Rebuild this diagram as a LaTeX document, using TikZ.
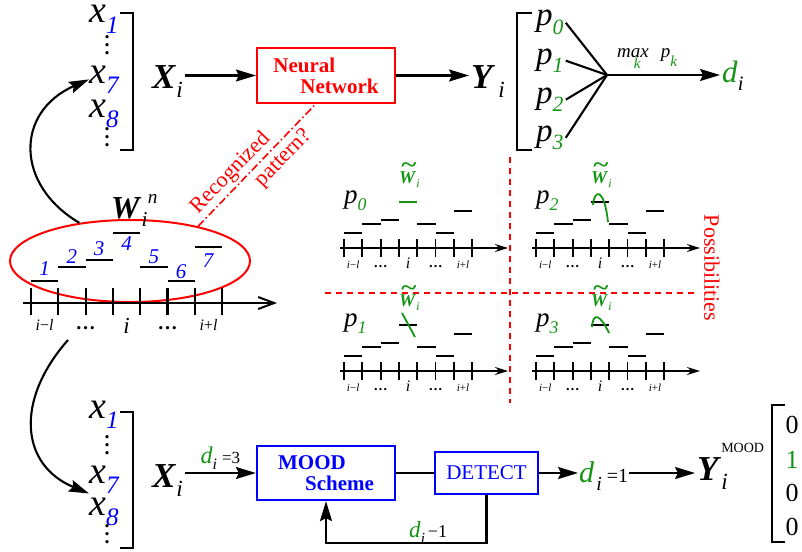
\documentclass[tikz,border=0pt]{standalone}
\usepackage{fontspec}
\setmainfont{Liberation Serif}
\usepackage{graphicx}
\usepackage{tikz}
\usetikzlibrary{arrows.meta,positioning,shapes.geometric}
\definecolor{patred}{RGB}{255,0,0}
\definecolor{patblue}{RGB}{0,0,255}
\definecolor{patgreen}{RGB}{20,150,20}
\newcommand\lo[1]{\raisebox{-0.27em}{\scalebox{0.66}{#1}}}
\newcommand\bi[1]{\textbf{\textit{#1}}}
\newcommand\tw{\rlap{\raisebox{0.6em}{\hspace{0.12em}\scalebox{1.6}[1.3]{\textbf{\char"7E}}}}\bi{W}}
\newcommand\vdts{\vbox{\baselineskip=8pt\lineskiplimit=-20pt\lineskip=0pt\hbox{\textbf{.}}\hbox{\textbf{.}}\hbox{\textbf{.}}}}
\tikzset{
    fs/.style={font=\fontsize{#1}{#1}\selectfont},
    pline/.style={line width=1.8pt},
    pics/panel/.style 2 args={code={
        \draw[pline, -{Stealth[length=13pt,width=8pt]}] (-4,0) -- (164,0);
        \foreach \k in {0,...,7}
            \draw[pline] (\k*18.3,-9) -- (\k*18.3,9);
        \foreach \k/\h in {0/15,1/24,2/28,4/24,5/15,6/37}
            \draw[pline] (\k*18.3,-\h) -- ++(18.3,0);
        \draw[pline, #1] (54.9,-46) -- ++(18.3,0);
        \node[fs=27, anchor=base west, inner sep=0pt] (-p) at (0,-45) {\textit{p}\lo{\textcolor{patgreen}{\textit{#2}}}};
        \node[fs=18, anchor=base west, inner sep=0pt, text=patgreen] (-w) at (55,-65) {\tw\lo{\textit{i}}};
        \node[fs=11, anchor=base] (-il) at (9.15,20) {\textit{i}−\textit{l}};
        \node[fs=14, anchor=base] (-d1) at (36.6,19) {\textbf{…}};
        \node[fs=16, anchor=base] (-i) at (64,20) {\textit{i}};
        \node[fs=14, anchor=base] (-d2) at (91.5,19) {\textbf{…}};
        \node[fs=11, anchor=base] (-ip) at (119,20) {\textit{i}+\textit{l}};
    }}
}

\begin{document}
\begin{tikzpicture}[
        x=1pt, y=-1pt,
        >={Stealth[length=20pt,width=12pt,inset=3pt]},
        ln/.style={line width=2.1pt},
        vec/.style={fs=38, anchor=base west, inner sep=0pt},
        vdot/.style={fs=20, anchor=base, inner sep=0pt},
        procbox/.style={draw, line width=2.2pt, minimum width=138pt, minimum height=55pt, align=left, fs=21},
        rdash/.style={patred, line width=1.3pt, dash pattern=on 6pt off 5pt}
    ]
    \useasboundingbox (0,0) rectangle (802,551);
    % top: input vector -> neural network -> outputs
    \node[vec] (x1) at (89,23) {\textit{x}\lo{\textcolor{patblue}{\textit{1}}}};
    \node[vdot] (xd1) at (107,55) {\vdts};
    \node[vec] (x7) at (89,83) {\textit{x}\lo{\textcolor{patblue}{\textit{7}}}};
    \node[vec] (x8) at (89,117) {\textit{x}\lo{\textcolor{patblue}{\textit{8}}}};
    \node[vdot] (xd2) at (107,146) {\vdts};
    \draw[ln] (120,13) -- (133,13) -- (133,150) -- (120,150);
    \node[fs=35, anchor=base west, inner sep=2pt] (Xt) at (150,88) {\bi{X}\lo{\textit{i}}};
    \node[procbox, draw=patred, text=patred] (nn) at (326,75.5) {\textbf{Neural}\\\hspace*{27pt}\textbf{Network}};
    \node[fs=35, anchor=base west, inner sep=2pt] (Yt) at (469,88) {\bi{Y}\hspace{3pt}\lo{\textit{i}}};
    \draw[ln] (532,13) -- (517,13) -- (517,150) -- (532,150);
    \node[fs=33, anchor=base west, inner sep=2pt] (p0) at (534,26) {\textit{p}\lo{\textcolor{patgreen}{\textit{0}}}};
    \node[fs=33, anchor=base west, inner sep=2pt] (p1) at (534,64) {\textit{p}\lo{\textcolor{patgreen}{\textit{1}}}};
    \node[fs=33, anchor=base west, inner sep=2pt] (p2) at (534,103) {\textit{p}\lo{\textcolor{patgreen}{\textit{2}}}};
    \node[fs=33, anchor=base west, inner sep=2pt] (p3) at (534,141) {\textit{p}\lo{\textcolor{patgreen}{\textit{3}}}};
    \coordinate (join) at (607,75);
    \node[fs=31, anchor=base west, inner sep=2pt] (dt) at (720,82) {\textcolor{patgreen}{\textit{d}}\lo{\textit{i}}};
    \node[fs=19, anchor=base west, inner sep=0pt] (maxk) at (617,57) {\textit{m\rlap{\hspace{3pt}\raisebox{-0.6em}{\scalebox{0.8}{\textcolor{patgreen}{k}}}}ax}\hspace{12pt}\textit{p}\raisebox{-0.5em}{\scalebox{0.8}{\textcolor{patgreen}{\textit{k}}}}};
    \draw[->,ln] (Xt.east |- nn) -- (nn);
    \draw[->,ln] (nn) -- (nn -| Yt.west);
    \foreach \q in {p0,p1,p2,p3}
        \draw[ln] (\q.east) -- (join);
    \draw[->,ln] (join) -- (join -| dt.west);
    % window of the signal
    \node[ellipse, draw=patred, line width=2pt, minimum width=240pt, minimum height=82pt] (win) at (130,261) {};
    \node[fs=32, anchor=base west, inner sep=0pt] (wn) at (111,218) {\bi{W}\rlap{\hspace{0.2em}\raisebox{0.45em}{\scalebox{0.6}{\textit{n}}}}\lo{\textit{i}}};
    \draw[ln, -{Straight Barb[length=16pt,width=12pt,line width=2pt]}] (23,303) -- (277,303);
    \foreach \k in {0,...,7}
        \draw[ln] (31+\k*27.3,288) -- (31+\k*27.3,315);
    \foreach \k/\y/\off/\lbl in {0/281/-12/1,1/267/-10/2,2/260/-11/3,3/233/11/4,4/267/-10/5,5/281/-9/6,6/247/14/7} {
        \draw[ln] (31+\k*27.3,\y) -- ++(27.3,0);
        \node[fs=21, text=patblue] (n\lbl) at (44.6+\k*27.3,\y+\off) {\textit{\lbl}};
    }
    \node[fs=16, anchor=base] (lil) at (44.6,330) {\textit{i}−\textit{l}};
    \node[fs=20, anchor=base] (ldots1) at (85.6,329) {\textbf{…}};
    \node[fs=23, anchor=base] (li) at (126.5,333) {\textit{i}};
    \node[fs=20, anchor=base] (ldots2) at (167.5,329) {\textbf{…}};
    \node[fs=16, anchor=base] (lip) at (208.5,330) {\textit{i}+\textit{l}};
    \draw[->,ln] (win.143) .. controls (15,185) and (15,112) .. (x7.west);
    \draw[patred, line width=1.6pt, dash pattern=on 8pt off 3pt on 1.5pt off 3pt] (win.27)
        -- node[pos=0.36, sloped, above=-1pt, fs=22, text=patred] (rec) {Recognized}
           node[pos=0.64, sloped, below=1pt, fs=22, text=patred] (pat) {pattern?} (nn.250);
    % possibilities
    \draw[rdash] (510,157) -- (510,403);
    \draw[rdash] (325,293) -- (698,293);
    \node[fs=22, text=patred, rotate=-90] (poss) at (712,268) {Possibilities};
    \pic (q0) at (344,248) {panel={patgreen}{0}};
    \pic (q2) at (536,248) {panel={black}{2}};
    \pic (q1) at (344,371) {panel={black}{1}};
    \pic (q3) at (536,371) {panel={black}{3}};
    \draw[pline, patgreen] (593,205) .. controls (594,190) and (604,186) .. (608,222);
    \draw[pline, patgreen] (402,313) -- (415,337);
    \draw[pline, patgreen] (592,327) .. controls (593,312) and (600,314) .. (609,333);
    % bottom: MOOD scheme
    \coordinate (lowstart) at (68,340);
    \node[vec] (bx1) at (89,418) {\textit{x}\lo{\textcolor{patblue}{\textit{1}}}};
    \node[vdot] (bxd1) at (107,454) {\vdts};
    \node[vec] (bx7) at (89,483) {\textit{x}\lo{\textcolor{patblue}{\textit{7}}}};
    \node[vec] (bx8) at (89,515) {\textit{x}\lo{\textcolor{patblue}{\textit{8}}}};
    \node[vdot] (bxd2) at (107,543) {\vdts};
    \draw[ln] (120,412) -- (133,412) -- (133,548) -- (120,548);
    \draw[->,ln] (lowstart) .. controls (15,400) and (20,465) .. (bx7.south west);
    \node[fs=35, anchor=base west, inner sep=2pt] (Xb) at (150,487) {\bi{X}\lo{\textit{i}}};
    \node[procbox, draw=patblue, text=patblue, minimum height=54pt] (mood) at (326,473) {\textbf{MOOD}\\\hspace*{27pt}\textbf{Scheme}};
    \node[draw=patblue, line width=2.2pt, minimum width=103pt, minimum height=42pt, fs=21, text=patblue] (detect) at (486.5,473) {DETECT};
    \draw[->,ln] (Xb.east |- mood) -- node[above, fs=24, inner sep=2pt] (d3) {\textcolor{patgreen}{\textit{d}}\lo{\textit{i}}\hspace{5pt}{\fontsize{17}{17}\selectfont =3}} (mood);
    \draw[ln] (mood) -- (detect);
    \node[fs=30, anchor=base west, inner sep=1pt] (dres) at (578,482) {\textcolor{patgreen}{\textit{d}}\hspace{2pt}\lo{\textit{i}}\hspace{5pt}{\fontsize{20}{20}\selectfont =1}};
    \draw[->,ln] (detect) -- (detect -| dres.west);
    \node[fs=35, anchor=base west, inner sep=2pt] (Yb) at (695,480) {\bi{Y}\rlap{\raisebox{0.8em}{\fontsize{14}{14}\selectfont MOOD}}\lo{\textit{i}}};
    \draw[->,ln] (dres.east |- detect) -- (detect -| Yb.west);
    \draw[->,ln] (detect.south) -- ++(0,48) -| (mood.south);
    \node[fs=23, anchor=base west, inner sep=0pt] (dfb) at (409,537) {\textcolor{patgreen}{\textit{d}}\lo{\textit{i}}\hspace{3pt}{\fontsize{18}{18}\selectfont −1}};
    \draw[ln] (785,405) -- (772,405) -- (772,542) -- (785,542);
    \node[fs=26] (m0) at (792,425) {0};
    \node[fs=26, text=patgreen] (m1) at (792,460) {1};
    \node[fs=26] (m2) at (792,493) {0};
    \node[fs=26] (m3) at (792,527) {0};
\end{tikzpicture}
\end{document}
